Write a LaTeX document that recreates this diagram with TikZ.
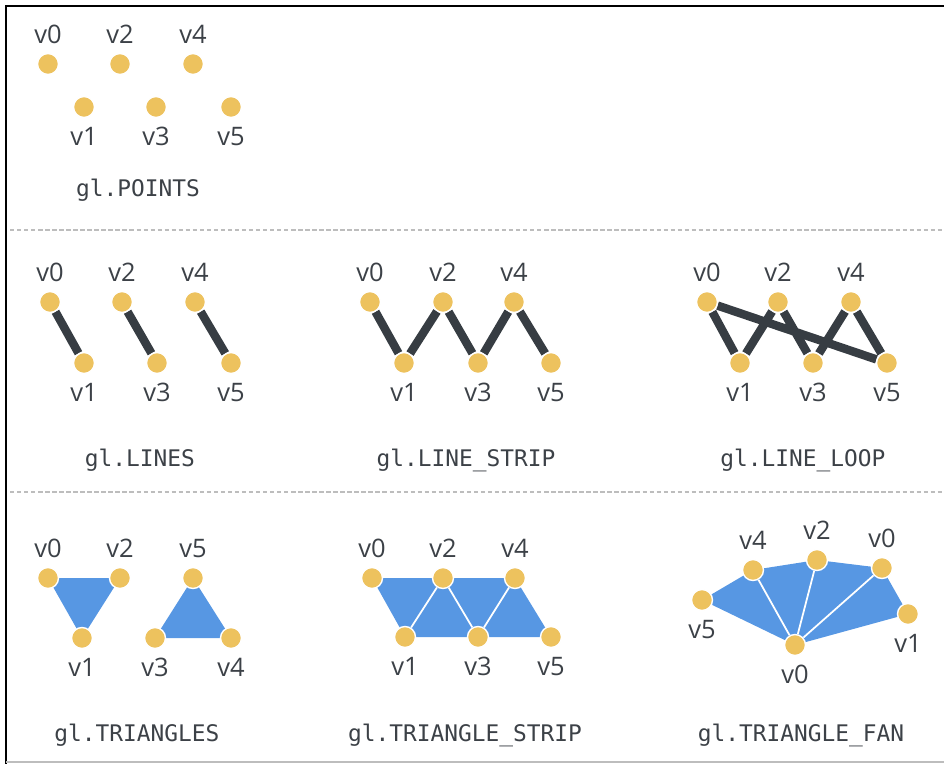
\documentclass[tikz,border=0pt]{standalone}
\usepackage{fontspec}
\setmainfont{Open Sans}
\setmonofont{DejaVu Sans Mono}
\usetikzlibrary{backgrounds}

\definecolor{dotyellow}{HTML}{EDC25E}
\definecolor{linedark}{HTML}{373D43}
\definecolor{faceblue}{HTML}{5797E3}
\definecolor{sepgray}{HTML}{BDBDBD}
\definecolor{txtgray}{HTML}{3C4147}

\tikzset{
	vtx/.style={circle, fill=dotyellow, draw=white, line width=0.8pt, minimum size=0.42cm, inner sep=0pt},
	every label/.style={font=\fontsize{14.5}{17}\selectfont, text=txtgray, inner sep=0pt},
	label distance=0.17cm,
	edge/.style={draw=linedark, line width=4.8pt},
	face/.style={fill=faceblue},
	seam/.style={draw=white, line width=1pt},
	title/.style={font=\ttfamily\fontsize{13}{15}\selectfont, text=txtgray, anchor=base},
}

\begin{document}
\begin{tikzpicture}[x=0.02cm, y=-0.02cm]
	\useasboundingbox (0, 0) rectangle (944, 764);
	% frame and separators
	\draw[black, line width=1.7pt] (6, 764) -- (6, 6) -- (944, 6);
	\draw[sepgray, line width=0.6pt] (6, 762) -- (944, 762);
	\draw[sepgray, line width=0.6pt, dash pattern=on 2.5pt off 1.5pt] (10, 230) -- (944, 230);
	\draw[sepgray, line width=0.6pt, dash pattern=on 2.5pt off 1.5pt] (10, 492) -- (944, 492);

	% gl.POINTS
	\node[vtx, label=above:v0] (pa0) at (48, 64) {};
	\node[vtx, label=below:v1] (pa1) at (84, 107) {};
	\node[vtx, label=above:v2] (pa2) at (120, 64) {};
	\node[vtx, label=below:v3] (pa3) at (156, 107) {};
	\node[vtx, label=above:v4] (pa4) at (193, 64) {};
	\node[vtx, label=below:v5] (pa5) at (231, 107) {};
	\node[title] (tpoints) at (138, 196) {gl.POINTS};

	% gl.LINES
	\node[vtx, label=above:v0] (la0) at (50, 302) {};
	\node[vtx, label=below:v1] (la1) at (84, 363) {};
	\node[vtx, label=above:v2] (la2) at (122, 302) {};
	\node[vtx, label=below:v3] (la3) at (157, 363) {};
	\node[vtx, label=above:v4] (la4) at (195, 302) {};
	\node[vtx, label=below:v5] (la5) at (231, 363) {};
	\node[title] (tlines) at (140, 466) {gl.LINES};

	% gl.LINE_STRIP
	\node[vtx, label=above:v0] (sa0) at (370, 302) {};
	\node[vtx, label=below:v1] (sa1) at (404, 363) {};
	\node[vtx, label=above:v2] (sa2) at (443, 302) {};
	\node[vtx, label=below:v3] (sa3) at (478, 363) {};
	\node[vtx, label=above:v4] (sa4) at (514, 302) {};
	\node[vtx, label=below:v5] (sa5) at (551, 363) {};
	\node[title] (tstrip) at (466, 466) {gl.LINE\_STRIP};

	% gl.LINE_LOOP
	\node[vtx, label=above:v0] (oa0) at (707, 302) {};
	\node[vtx, label=below:v1] (oa1) at (740, 363) {};
	\node[vtx, label=above:v2] (oa2) at (778, 302) {};
	\node[vtx, label=below:v3] (oa3) at (813, 363) {};
	\node[vtx, label=above:v4] (oa4) at (851, 302) {};
	\node[vtx, label=below:v5] (oa5) at (887, 363) {};
	\node[title] (tloop) at (803, 466) {gl.LINE\_LOOP};

	% gl.TRIANGLES
	\node[vtx, label=above:v0] (ta0) at (48, 578) {};
	\node[vtx, label=below:v1] (ta1) at (82, 638) {};
	\node[vtx, label=above:v2] (ta2) at (120, 578) {};
	\node[vtx, label=below:v3] (ta3) at (155, 638) {};
	\node[vtx, label=below:v4] (ta4) at (231, 638) {};
	\node[vtx, label=above:v5] (ta5) at (193, 578) {};
	\node[title] (ttris) at (137, 741) {gl.TRIANGLES};

	% gl.TRIANGLE_STRIP
	\node[vtx, label=above:v0] (ua0) at (372, 578) {};
	\node[vtx, label=below:v1] (ua1) at (405, 637) {};
	\node[vtx, label=above:v2] (ua2) at (443, 578) {};
	\node[vtx, label=below:v3] (ua3) at (478, 637) {};
	\node[vtx, label=above:v4] (ua4) at (515, 578) {};
	\node[vtx, label=below:v5] (ua5) at (551, 637) {};
	\node[title] (tustrip) at (465, 741) {gl.TRIANGLE\_STRIP};

	% gl.TRIANGLE_FAN
	\node[vtx, label=below:v0] (fa0) at (795, 645) {};
	\node[vtx, label=below:v1] (fa1) at (908, 614) {};
	\node[vtx, label=above:v2] (fa2) at (817, 560) {};
	\node[vtx, label=above:v4] (fa4) at (753, 570) {};
	\node[vtx, label=below:v5] (fa5) at (702, 600) {};
	\node[vtx, label=above:v0] (fb0) at (882, 568) {};
	\node[title] (tfan) at (801, 741) {gl.TRIANGLE\_FAN};

	\begin{scope}[on background layer]
		\draw[edge] (la0) -- (la1);
		\draw[edge] (la2) -- (la3);
		\draw[edge] (la4) -- (la5);
		\draw[edge] (sa0) -- (sa1) -- (sa2) -- (sa3) -- (sa4) -- (sa5);
		\draw[edge] (oa0) -- (oa1) -- (oa2) -- (oa3) -- (oa4) -- (oa5) -- (oa0);
		\fill[face] (ta0.center) -- (ta2.center) -- (ta1.center) -- cycle;
		\fill[face] (ta5.center) -- (ta4.center) -- (ta3.center) -- cycle;
		\fill[face] (ua0.center) -- (ua4.center) -- (ua5.center) -- (ua1.center) -- cycle;
		\draw[seam] (ua1) -- (ua2) -- (ua3) -- (ua4);
		\fill[face] (fa0.center) -- (fa1.center) -- (fb0.center) -- (fa2.center) -- (fa4.center) -- (fa5.center) -- cycle;
		\draw[seam] (fa0) -- (fa4);
		\draw[seam] (fa0) -- (fa2);
		\draw[seam] (fa0) -- (fb0);
	\end{scope}
\end{tikzpicture}
\end{document}
